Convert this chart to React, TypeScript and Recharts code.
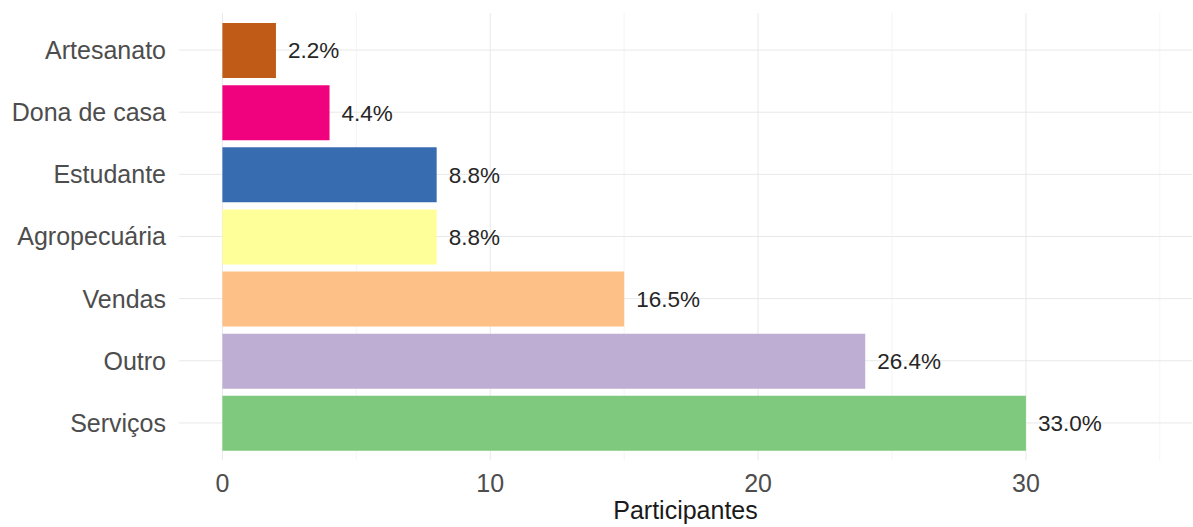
import { BarChart, Bar, Cell, XAxis, YAxis, CartesianGrid, LabelList } from "recharts";

const CATEGORIES = ["Artesanato", "Dona de casa", "Estudante", "Agropecuária", "Vendas", "Outro", "Serviços"];
const COUNTS = [2, 4, 8, 8, 15, 24, 30];
const COLORS = ["#bf5b17", "#f0027f", "#386cb0", "#ffff99", "#fdc086", "#beaed4", "#7fc97f"];
const X_TICKS = [0, 10, 20, 30];
const X_MINOR = [5, 15, 25, 35];

const FONT = "'Liberation Sans', Arial, sans-serif";
const total = COUNTS.reduce((s, v) => s + v, 0);

const data = CATEGORIES.map((name, i) => ({ name, count: COUNTS[i] }));

// grid lines only through the middle of each category band
function categoryCenters({ yAxis, offset }: any): number[] {
  const scale = yAxis?.scale;
  if (typeof scale === "function" && typeof scale.bandwidth === "function") {
    return CATEGORIES.map((c) => scale(c) + scale.bandwidth() / 2);
  }
  if (scale && typeof scale.map === "function" && typeof scale.bandwidth === "function") {
    return CATEGORIES.map((c) => scale.map(c) + scale.bandwidth() / 2);
  }
  const band = (offset.height - 12) / CATEGORIES.length;
  return CATEGORIES.map((_, i) => offset.top + 6 + band * (i + 0.5));
}

export default function App() {
  return (
    <div style={{ position: "absolute", left: 0, top: 0, fontFamily: FONT }}>
      <BarChart
        width={1193}
        height={527}
        data={data}
        layout="vertical"
        margin={{ top: 13, right: 1, bottom: 0, left: 0 }}
      >
        <CartesianGrid
          stroke="#e8e8e8"
          strokeWidth={1}
          verticalValues={X_TICKS}
          horizontalCoordinatesGenerator={categoryCenters}
        />
        <CartesianGrid stroke="#ededed" strokeWidth={0.6} horizontal={false} verticalValues={X_MINOR} />
        <XAxis
          type="number"
          domain={[-1.62, 36.2]}
          ticks={X_TICKS}
          axisLine={false}
          tickLine={false}
          tickSize={0}
          tickMargin={14}
          height={67}
          tick={{ fill: "#4d4d4d", fontSize: 25, fontFamily: FONT }}
          label={{ value: "Participantes", position: "insideBottom", offset: 8, fill: "#1a1a1a", fontSize: 25, fontFamily: FONT }}
        />
        <YAxis
          type="category"
          dataKey="name"
          width={179}
          padding={{ top: 6, bottom: 6 }}
          axisLine={false}
          tickLine={false}
          tickSize={0}
          tickMargin={13}
          tick={{ fill: "#4d4d4d", fontSize: 25, fontFamily: FONT }}
        />
        <Bar dataKey="count" barSize={55} isAnimationActive={false}>
          {data.map((_, i) => (
            <Cell key={i} fill={COLORS[i]} />
          ))}
          <LabelList
            dataKey="count"
            position="right"
            offset={12}
            formatter={(v: number) => `${((v / total) * 100).toFixed(1)}%`}
            style={{ fill: "#262626", fontSize: 22.5, fontFamily: FONT }}
          />
        </Bar>
      </BarChart>
    </div>
  );
}
